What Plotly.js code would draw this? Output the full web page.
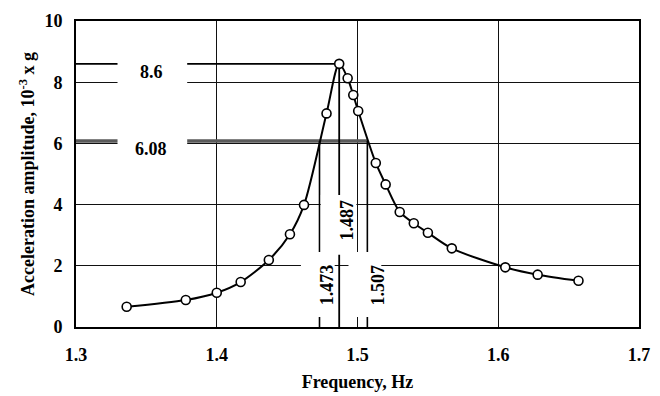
<!DOCTYPE html>
<html><head><meta charset="utf-8">
<script src="https://cdn.plot.ly/plotly-3.0.1.min.js"></script>
<style>html,body{margin:0;padding:0;background:#fff}</style>
</head><body><div id="chart" style="width:660px;height:396px"></div>
<script>
// Measured response (frequency in Hz, acceleration amplitude in 10^-3 g)
const frequency = [1.336, 1.378, 1.400, 1.417, 1.437, 1.452, 1.462, 1.478, 1.487, 1.493, 1.497, 1.5005, 1.513, 1.520, 1.530, 1.540, 1.550, 1.567, 1.605, 1.628, 1.657];
const amplitude = [0.66, 0.88, 1.12, 1.47, 2.19, 3.03, 3.99, 6.98, 8.6, 8.13, 7.58, 7.06, 5.36, 4.66, 3.76, 3.39, 3.08, 2.57, 1.95, 1.71, 1.51];

// Half-power (bandwidth) reading values
const peakFrequency = 1.487;
const peakAmplitude = 8.6;
const halfPowerAmplitude = 6.08;
const halfPowerLow = 1.473;
const halfPowerHigh = 1.507;

// Axis ticks
const xTicks = [1.3, 1.4, 1.5, 1.6, 1.7];
const xTickLabels = ['1.3', '1.4', '1.5', '1.6', '1.7'];
const yTicks = [0, 2, 4, 6, 8, 10];
const yTickLabels = ['0', '2', '4', '6', '8', '10'];

const FONT = 'Liberation Serif, Times New Roman, serif';

const trace = {
  x: frequency, y: amplitude, type: 'scatter', mode: 'lines+markers',
  line: {color: '#000', width: 2, shape: 'spline', smoothing: 0.8},
  marker: {symbol: 'circle', size: 9, color: '#fff', line: {color: '#000', width: 1.6}},
  hoverinfo: 'skip', showlegend: false
};

function hline(y, x0, x1, color, width) {
  return {type: 'line', xref: 'x', yref: 'y', x0: x0, x1: x1, y0: y, y1: y, layer: 'between', line: {color: color, width: width}};
}
function vline(x, y0, y1, color, width) {
  return {type: 'line', xref: 'x', yref: 'y', x0: x, x1: x, y0: y0, y1: y1, layer: 'between', line: {color: color, width: width}};
}
function mask(x0, x1, y0, y1) {
  return {type: 'rect', xref: 'x', yref: 'y', x0: x0, x1: x1, y0: y0, y1: y1, layer: 'between', fillcolor: '#fff', line: {width: 0}};
}

const shapes = [
  hline(peakAmplitude, 1.3, peakFrequency, '#000', 1.6),
  hline(halfPowerAmplitude, 1.3, halfPowerHigh, '#5a5a5a', 3.5),
  vline(halfPowerLow, 0, halfPowerAmplitude, '#000', 1.6),
  vline(peakFrequency, 0, peakAmplitude, '#000', 1.8),
  vline(halfPowerHigh, 0, halfPowerAmplitude, '#000', 1.6),
  // white gaps behind the labels
  mask(1.3295, 1.379, 5.5, 9.2),
  mask(halfPowerLow + 0.0009, 1.4992, 2.36, 4.31),
  mask(halfPowerLow - 0.0132, halfPowerLow + 0.0108, 0.33, 2.45),
  mask(peakFrequency + 0.0066, halfPowerHigh + 0.0099, 0.33, 2.45)
];

const annFont = {family: FONT, size: 18, color: '#000', weight: 'bold'};
const annotations = [
  {x: 1.3537, y: 8.33, xref: 'x', yref: 'y', text: String(peakAmplitude), showarrow: false, font: annFont},
  {x: 1.3531, y: 5.83, xref: 'x', yref: 'y', text: String(halfPowerAmplitude), showarrow: false, font: annFont},
  {x: peakFrequency + 0.0052, y: 3.5, xref: 'x', yref: 'y', text: String(peakFrequency), textangle: -90, showarrow: false, font: annFont},
  {x: halfPowerLow + 0.0055, y: 1.37, xref: 'x', yref: 'y', text: String(halfPowerLow), textangle: -90, showarrow: false, font: annFont},
  {x: halfPowerHigh + 0.0078, y: 1.37, xref: 'x', yref: 'y', text: String(halfPowerHigh), textangle: -90, showarrow: false, font: annFont}
];

const boldFont = {family: FONT, size: 18, color: '#000', weight: 'bold'};

const layout = {
  width: 660, height: 396,
  margin: {l: 76, r: 21, t: 21, b: 69},
  paper_bgcolor: '#fff', plot_bgcolor: '#fff',
  font: boldFont,
  xaxis: {
    range: [1.3, 1.7], tickvals: xTicks, ticktext: xTickLabels,
    showgrid: true, gridcolor: '#111', gridwidth: 1.3,
    zeroline: false, showline: true, linecolor: '#000', linewidth: 2, mirror: true,
    ticks: '', ticklabelstandoff: 10,
    tickfont: boldFont,
    title: {text: 'Frequency, Hz', font: boldFont, standoff: 12}
  },
  yaxis: {
    range: [0, 10], tickvals: yTicks, ticktext: yTickLabels,
    showgrid: true, gridcolor: '#111', gridwidth: 1.3,
    zeroline: false, showline: true, linecolor: '#000', linewidth: 2, mirror: true,
    ticks: '', ticklabelstandoff: 8,
    tickfont: boldFont,
    title: {text: 'Acceleration amplitude, 10<sup>-3</sup> x g', font: boldFont, standoff: 5}
  },
  shapes: shapes,
  annotations: annotations,
  showlegend: false
};

Plotly.newPlot('chart', [trace], layout, {staticPlot: true, displayModeBar: false});
</script>
</body></html>
